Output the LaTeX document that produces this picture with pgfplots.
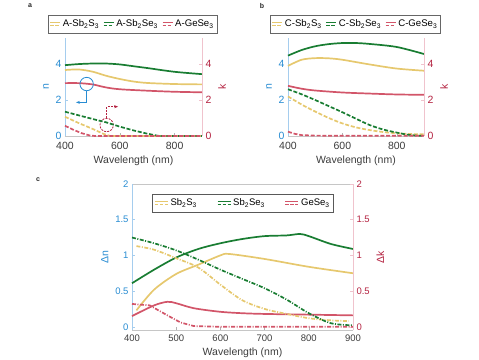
\documentclass[border=0pt]{standalone}
\usepackage{fontspec}
\setmainfont{Liberation Sans}
\usepackage{pgfplots}
\pgfplotsset{compat=1.18}
\usetikzlibrary{arrows.meta}

\definecolor{cy}{RGB}{230,200,110}
\definecolor{cg}{RGB}{25,125,50}
\definecolor{cr}{RGB}{210,85,105}
\definecolor{cb}{RGB}{40,140,210}
\definecolor{ck}{RGB}{180,35,65}
\definecolor{cbl}{RGB}{165,205,238}
\definecolor{ckl}{RGB}{240,195,205}
\definecolor{txt}{RGB}{60,60,60}

\pgfplotsset{
  base/.style={
    scale only axis, xmin=400, xmax=900,
    /pgf/number format/assume math mode=true,
    tick align=inside, major tick length=3pt,
    every tick/.style={line width=0.4pt},
    xlabel={Wavelength (nm)},
    xlabel style={txt, yshift=1pt},
    x tick label style={txt, yshift=-3pt},
    legend cell align=left,
    clip=false,
  },
  leftax/.style={base,
    axis y line*=left, xtick pos=bottom,
    x axis line style={gray!45, line width=0.5pt},
    y axis line style={cbl, line width=0.6pt},
    ytick style={cbl}, xtick style={gray!60},
    y tick label style={cb}, ylabel style={cb},
  },
  rightax/.style={base,
    axis x line=none, axis y line*=right,
    y axis line style={ckl, line width=0.6pt},
    ytick style={ckl},
    y tick label style={ck}, ylabel style={ck},
    xlabel={}, xticklabels={},
  },
  nline/.style={line width=1.7pt},
  kab/.style={line width=1.7pt, dash pattern=on 4pt off 1.8pt},
  kc/.style={line width=1.7pt, dash pattern=on 4pt off 1.5pt on 1pt off 1.5pt},
  legab/.style={
    legend columns=3,
    legend style={at={(#1,1.143)}, anchor=center, draw=gray!80!black,
      font=\fontsize{9.6}{11}\selectfont, inner xsep=1.2pt, inner ysep=3pt,
      /tikz/every even column/.append style={column sep=2pt}},
  },
}

\begin{document}
\begin{tikzpicture}
\path[use as bounding box] (0,0) rectangle (479pt,359pt);

% ---- panel a ----
\begin{axis}[leftax, axis x line*=bottom, at={(65pt,223pt)}, anchor=south west,
  width=137pt, height=98pt, ymin=0, ymax=5.45,
  xtick={400,600,800}, ytick={0,2,4},
  ylabel={n}, font=\fontsize{10.5}{12}\selectfont,
  legab=0.493,
  legend image code/.code={
    \draw[#1,solid,line width=1.3pt] (0pt,1.7pt) -- (10pt,1.7pt);
    \draw[#1,line width=1.3pt,dash pattern=on 3.5pt off 1.5pt] (0pt,-1.7pt) -- (10pt,-1.7pt);},
]
\addplot[cy, nline, smooth] coordinates {(400,3.67)(450,3.70)(500,3.58)(550,3.35)(600,3.17)(650,3.03)(700,2.95)(800,2.89)(900,2.87)};
\addlegendentry{A-Sb\textsubscript{2}S\textsubscript{3}}
\addplot[cg, nline, smooth] coordinates {(400,3.94)(450,4.00)(500,4.03)(550,4.03)(600,3.98)(650,3.88)(700,3.78)(800,3.57)(900,3.44)};
\addlegendentry{A-Sb\textsubscript{2}Se\textsubscript{3}}
\addplot[cr, nline, smooth] coordinates {(400,2.94)(450,2.94)(500,2.87)(550,2.70)(600,2.60)(700,2.52)(800,2.46)(900,2.43)};
\addlegendentry{A-GeSe\textsubscript{3}}
% annotations
\draw[cb, line width=0.8pt] (axis cs:479,2.89) circle (6.7pt);
\draw[cb, line width=0.8pt, -{Stealth[length=4pt]}] ([yshift=-6.7pt]axis cs:479,2.89) |- (axis cs:440,1.87);
\draw[ck, line width=0.8pt, dash pattern=on 2pt off 1.2pt] (axis cs:552,0.61) circle (6.7pt);
\draw[ck, line width=0.8pt, dash pattern=on 2pt off 1.2pt, -{Stealth[length=4pt]}] ([yshift=6.7pt]axis cs:552,0.61) |- (axis cs:594,1.63);
\end{axis}
\begin{axis}[rightax, at={(65pt,223pt)}, anchor=south west,
  width=137pt, height=98pt, ymin=0, ymax=5.45,
  xtick={400,600,800}, ytick={0,2,4},
  ylabel={k}, font=\fontsize{10.5}{12}\selectfont]
\addplot[cy, kab] coordinates {(400,1.07)(450,0.72)(500,0.40)(540,0.12)(565,0)(900,0)};
\addplot[cg, kab] coordinates {(400,1.35)(450,1.15)(500,0.95)(550,0.76)(600,0.52)(650,0.31)(700,0.13)(740,0.01)(760,0)(900,0)};
\addplot[cr, kab] coordinates {(400,0.57)(430,0.35)(460,0.16)(490,0.03)(510,0)(900,0)};
\end{axis}

% ---- panel b ----
\begin{axis}[leftax, axis x line*=bottom, at={(288pt,223pt)}, anchor=south west,
  width=136pt, height=98pt, ymin=0, ymax=5.45,
  xtick={400,600,800}, ytick={0,2,4},
  ylabel={n}, font=\fontsize{10.5}{12}\selectfont,
  legab=0.496,
  legend image code/.code={
    \draw[#1,solid,line width=1.3pt] (0pt,1.7pt) -- (10pt,1.7pt);
    \draw[#1,line width=1.3pt,dash pattern=on 3.5pt off 1.5pt] (0pt,-1.7pt) -- (10pt,-1.7pt);},
]
\addplot[cy, nline, smooth] coordinates {(400,3.90)(450,4.24)(500,4.33)(550,4.32)(600,4.24)(700,3.98)(800,3.75)(900,3.63)};
\addlegendentry{C-Sb\textsubscript{2}S\textsubscript{3}}
\addplot[cg, nline, smooth] coordinates {(400,4.47)(450,4.78)(500,4.99)(550,5.11)(600,5.17)(650,5.17)(700,5.12)(800,4.95)(900,4.56)};
\addlegendentry{C-Sb\textsubscript{2}Se\textsubscript{3}}
\addplot[cr, nline, smooth] coordinates {(400,2.79)(450,2.63)(500,2.53)(600,2.42)(700,2.36)(800,2.31)(900,2.29)};
\addlegendentry{C-GeSe\textsubscript{3}}
\end{axis}
\begin{axis}[rightax, at={(288pt,223pt)}, anchor=south west,
  width=136pt, height=98pt, ymin=0, ymax=5.45,
  xtick={400,600,800}, ytick={0,2,4},
  ylabel={k}, font=\fontsize{10.5}{12}\selectfont]
\addplot[cy, kab, smooth] coordinates {(400,2.20)(450,1.75)(500,1.36)(550,1.00)(600,0.70)(650,0.48)(700,0.33)(750,0.22)(800,0.15)(850,0.11)(900,0.10)};
\addplot[cg, kab, smooth] coordinates {(400,2.60)(450,2.32)(500,2.00)(550,1.66)(600,1.32)(650,0.96)(700,0.61)(750,0.36)(800,0.19)(850,0.05)(900,0.01)};
\addplot[cr, kab] coordinates {(400,0.24)(425,0.12)(450,0.05)(500,0.02)(900,0.01)};
\end{axis}

% ---- panel c ----
\begin{axis}[leftax, axis x line*=box, at={(132pt,29pt)}, anchor=south west,
  width=221pt, height=146pt, ymin=-0.045, ymax=2,
  xtick={400,500,...,900}, ytick={0,0.5,1,1.5,2},
  ylabel={Δn}, font=\fontsize{9.5}{11}\selectfont,
  x tick label style={yshift=1.5pt},
  xlabel style={font=\fontsize{10.5}{12}\selectfont},
  ylabel style={font=\fontsize{10.5}{12}\selectfont},
  legend columns=3,
  legend style={at={(0.502,0.870)}, anchor=center, draw=gray!70!black,
    font=\fontsize{9.5}{11}\selectfont, inner xsep=2pt, inner ysep=3pt,
    /tikz/every even column/.append style={column sep=18pt}},
  legend image code/.code={
    \draw[#1,solid,line width=1.3pt] (0pt,1.7pt) -- (13pt,1.7pt);
    \draw[#1,line width=1.3pt,dash pattern=on 3.5pt off 1.5pt] (0pt,-1.7pt) -- (13pt,-1.7pt);},
]
\addplot[cy, nline, smooth] coordinates {(410,0.23)(450,0.52)(500,0.74)(550,0.87)(600,1.00)(620,1.02)(700,0.95)(800,0.84)(900,0.75)};
\addlegendentry{Sb\textsubscript{2}S\textsubscript{3}}
\addplot[cg, nline, smooth] coordinates {(400,0.61)(450,0.80)(500,0.97)(550,1.09)(600,1.17)(650,1.23)(700,1.27)(750,1.28)(780,1.30)(800,1.27)(850,1.16)(900,1.09)};
\addlegendentry{Sb\textsubscript{2}Se\textsubscript{3}}
\addplot[cr, nline, smooth] coordinates {(400,0.15)(450,0.30)(480,0.35)(500,0.33)(540,0.26)(600,0.21)(650,0.19)(700,0.18)(800,0.17)(900,0.16)};
\addlegendentry{GeSe\textsubscript{3}}
\end{axis}
\begin{axis}[rightax, at={(132pt,29pt)}, anchor=south west,
  width=221pt, height=146pt, ymin=-0.045, ymax=2,
  xtick={400,500,...,900}, ytick={0,0.5,1,1.5,2},
  ylabel={Δk}, font=\fontsize{9.5}{11}\selectfont,
  ylabel style={font=\fontsize{10.5}{12}\selectfont}]
\addplot[cy, kc, smooth] coordinates {(410,1.13)(450,1.08)(500,0.96)(550,0.83)(600,0.59)(650,0.37)(700,0.25)(750,0.18)(800,0.12)(850,0.09)(890,0.08)};
\addplot[cg, kc, smooth] coordinates {(400,1.25)(450,1.17)(500,1.07)(550,0.94)(600,0.80)(650,0.67)(700,0.54)(750,0.38)(800,0.19)(850,0.05)(900,0.02)};
\addplot[cr, kc] coordinates {(400,0.32)(440,0.30)(480,0.16)(510,0.06)(540,0.01)(600,0)(900,0)};
\end{axis}

\node[font=\bfseries\fontsize{7}{8}\selectfont, text=black!85] at (30pt,353pt) {a};
\node[font=\bfseries\fontsize{7}{8}\selectfont, text=black!85] at (262pt,353pt) {b};
\node[font=\bfseries\fontsize{7}{8}\selectfont, text=black!85] at (38pt,179pt) {c};
\end{tikzpicture}
\end{document}
